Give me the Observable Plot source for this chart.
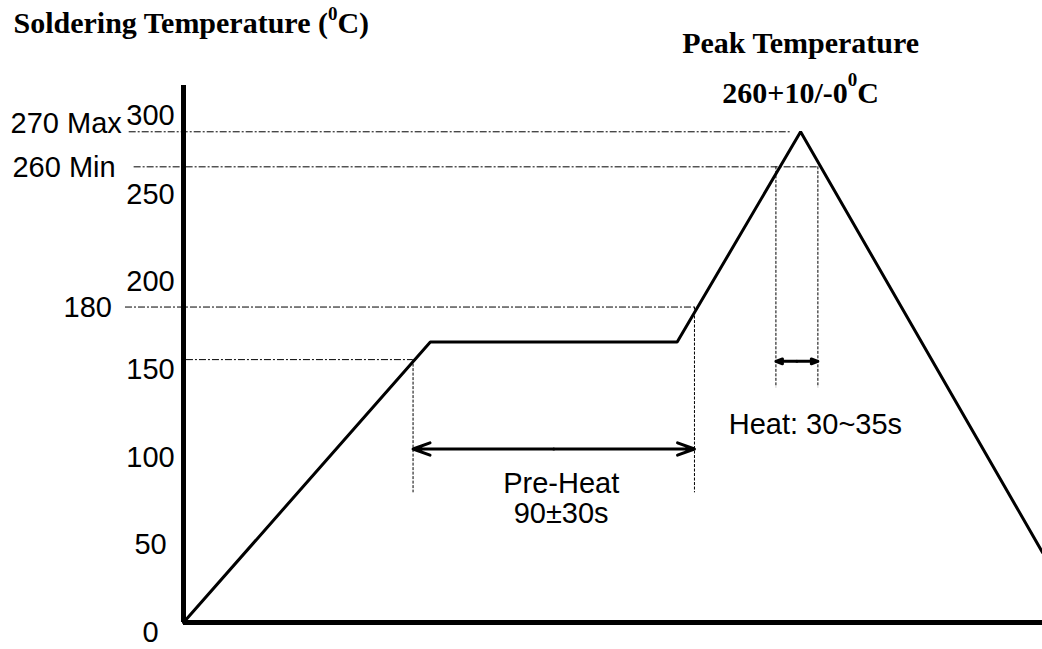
<!DOCTYPE html>
<html><head><meta charset="utf-8">
<script src="https://cdn.jsdelivr.net/npm/d3@7"></script>
<script src="https://cdn.jsdelivr.net/npm/@observablehq/plot@0.6"></script>
<style>body{margin:0;background:#fff;} #chart svg{display:block;}</style>
</head><body><div id="chart"></div>
<script>
// Reflow profile (schematic time units, temperature in °C)
const profileTime = [0, 100, 200, 250, 348];
const profileTemp = [0, 160, 160, 270, 40];

// Y tick labels
const tickValues = [0, 50, 100, 150, 200, 250, 300];

// Dash-dot reference levels and their horizontal extent (time units)
const refTemps = [270, 260, 180, 150];
const refStart = [-22, -20, -23.5, 1.2];
const refEnd = [246, 257, 207, 93];

// Dotted vertical markers
const markerTimes = [93, 207, 240, 257];
const markerTop = [150, 180, 260, 260];
const markerBottom = [74, 74, 134, 134];

// Double arrows for the durations
const spanStart = [93, 240];
const spanEnd = [207, 257];
const spanTemp = [99, 149];

// Side labels
const sideLabels = ["270 Max", "260 Min", "180"];
const sideTemps = [270, 260, 180];
const sideTimes = [-25, -27.5, -29];

// Annotation texts
const annoTexts = ["Pre-Heat", "90±30s", "Heat: 30~35s"];
const annoTimes = [153, 153, 256];
const annoTemps = [79, 62, 113];

const titleText = "Soldering Temperature (⁰C)";
const peakTitle = "Peak Temperature";
const peakSpec = "260+10/-0⁰C";
const peakTime = profileTime[3];

// The drawing is schematic: the axis is stretched above 260 °C
const warp = d3.scaleLinear().domain([0, 260, 270, 300]).range([0, 260, 280, 295]);

const profile = profileTime.map((t, i) => ({t, temp: profileTemp[i]}));
const refs = refTemps.map((temp, i) => ({temp, x1: refStart[i], x2: refEnd[i]}));
const markers = markerTimes.map((t, i) => ({t, y1: markerTop[i], y2: markerBottom[i]}));
const arrows = [];
spanStart.forEach((s, i) => {
  const mid = (s + spanEnd[i]) / 2;
  arrows.push({x1: mid, x2: s, y: spanTemp[i]});
  arrows.push({x1: mid, x2: spanEnd[i], y: spanTemp[i]});
});
const sides = sideLabels.map((label, i) => ({label, t: sideTimes[i], temp: sideTemps[i]}));
const annos = annoTexts.map((label, i) => ({label, t: annoTimes[i], temp: annoTemps[i]}));

const sans = "Liberation Sans, Arial, Helvetica, sans-serif";
const serif = "Liberation Serif, Times New Roman, serif";

const chart = Plot.plot({
  width: 1042,
  height: 649,
  marginLeft: 183,
  marginRight: 0,
  marginTop: 85,
  marginBottom: 27,
  style: {fontFamily: sans, background: "white", color: "black"},
  x: {domain: [0, 348], range: [183, 1042], axis: null},
  y: {transform: warp, domain: [0, 295], range: [622, 105], axis: null},
  marks: [
    Plot.ruleY(refs, {y: "temp", x1: "x1", x2: "x2", stroke: "black", strokeWidth: 1, strokeDasharray: "7,2,2,2"}),
    Plot.ruleX(markers, {x: "t", y1: "y1", y2: "y2", stroke: "black", strokeWidth: 1, strokeDasharray: "3,1.5"}),
    Plot.ruleX([0], {stroke: "black", strokeWidth: 5}),
    Plot.ruleY([0], {stroke: "black", strokeWidth: 5}),
    Plot.line(profile, {x: "t", y: "temp", stroke: "black", strokeWidth: 3, strokeLinejoin: "miter"}),
    Plot.arrow(arrows, {x1: "x1", x2: "x2", y1: "y", y2: "y", stroke: "black", strokeWidth: 3, headLength: 9, headAngle: 40}),
    Plot.text(tickValues, {y: d => d, text: d => String(d), frameAnchor: "left", dx: -33, dy: 10, textAnchor: "middle", fontSize: 29, fill: "black"}),
    Plot.text(sides.slice(0, 1), {x: "t", y: "temp", text: "label", textAnchor: "end", dy: -8, fontSize: 29, fill: "black"}),
    Plot.text(sides.slice(1), {x: "t", y: "temp", text: "label", textAnchor: "end", dy: 1, fontSize: 29, fill: "black"}),
    Plot.text(annos, {x: "t", y: "temp", text: "label", textAnchor: "middle", fontSize: 29, fill: "black"}),
    Plot.text([titleText], {text: d => d, frameAnchor: "top-left", lineAnchor: "middle", dx: -170, dy: -62.5, textAnchor: "start", fontFamily: serif, fontWeight: "bold", fontSize: 30, fill: "black"}),
    Plot.text([peakTitle], {x: () => peakTime, text: d => d, frameAnchor: "top", lineAnchor: "middle", dy: -42, textAnchor: "middle", fontFamily: serif, fontWeight: "bold", fontSize: 30, fill: "black"}),
    Plot.text([peakSpec], {x: () => peakTime, text: d => d, frameAnchor: "top", lineAnchor: "middle", dy: 8, textAnchor: "middle", fontFamily: serif, fontWeight: "bold", fontSize: 30, fill: "black"})
  ]
});

// Render the "⁰" as a real superscript
const NS = "http://www.w3.org/2000/svg";
chart.querySelectorAll("text").forEach(el => {
  const s = el.textContent;
  if (!s.includes("⁰")) return;
  const [a, b] = s.split("⁰");
  const shift = s.startsWith("Soldering") ? 13 : 17;
  el.textContent = "";
  const t1 = document.createElementNS(NS, "tspan"); t1.textContent = a;
  const t2 = document.createElementNS(NS, "tspan"); t2.textContent = "0";
  t2.setAttribute("dy", -shift); t2.setAttribute("font-size", 19);
  const t3 = document.createElementNS(NS, "tspan"); t3.textContent = b;
  t3.setAttribute("dy", shift);
  el.append(t1, t2, t3);
});

document.getElementById("chart").appendChild(chart);
</script>
</body></html>
